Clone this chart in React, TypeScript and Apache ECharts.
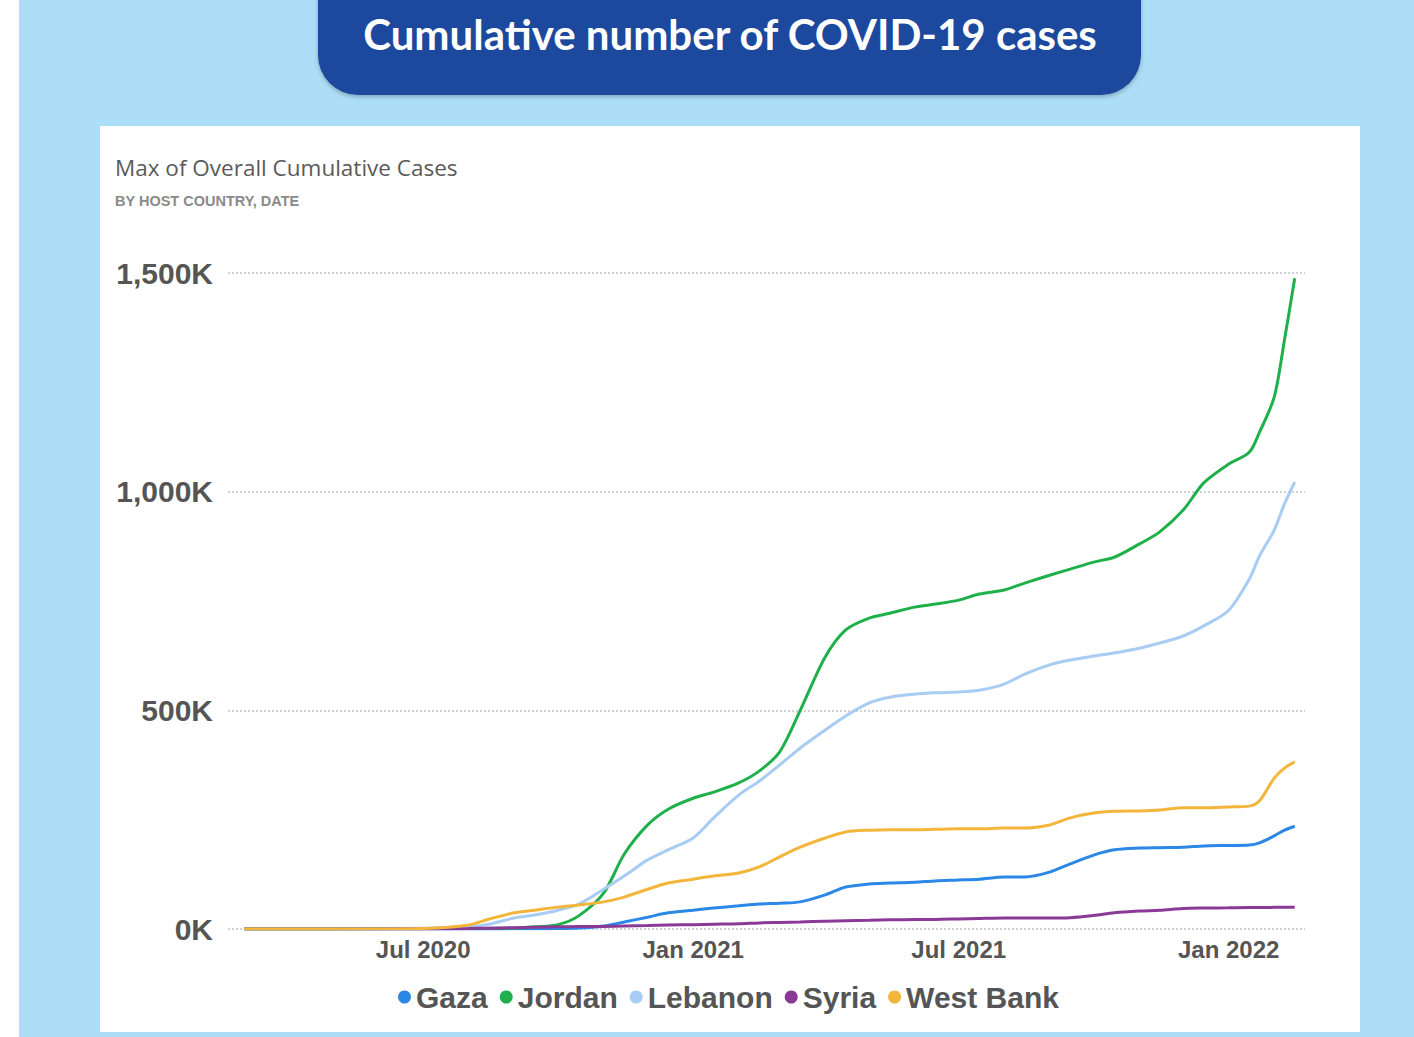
import React, { useEffect, useRef } from "react";
import * as echarts from "echarts";

// ---- Data (values in thousands of cases) ----
const dates: string[] = [
  "2020-03-01", "2020-04-01", "2020-05-01", "2020-06-01", "2020-07-01",
  "2020-08-01", "2020-08-15", "2020-09-01", "2020-09-15", "2020-10-01",
  "2020-10-15", "2020-11-01", "2020-11-15", "2020-12-01", "2020-12-15",
  "2021-01-01", "2021-01-15", "2021-02-01", "2021-02-15", "2021-03-01",
  "2021-03-15", "2021-04-01", "2021-04-15", "2021-05-01", "2021-05-15",
  "2021-06-01", "2021-06-15", "2021-07-01", "2021-07-15", "2021-08-01",
  "2021-08-15", "2021-09-01", "2021-09-15", "2021-10-01", "2021-10-15",
  "2021-11-01", "2021-11-15", "2021-12-01", "2021-12-15", "2022-01-01",
  "2022-01-15", "2022-01-22", "2022-02-01", "2022-02-08", "2022-02-15",
];

const gaza: number[] = [
  0, 0, 0, 0, 0, 0, 0, 0.5, 0.5, 1, 2, 7, 16, 27, 37,
  43, 48, 53, 57, 59, 62, 78, 96, 103, 105, 107, 110, 112, 114, 119,
  119, 130, 149, 169, 181, 185, 186, 187, 190,
  191, 192, 197, 213, 226, 235,
];
const jordan: number[] = [
  0, 0, 0, 1, 1, 1, 1.5, 2, 5, 10, 30, 82, 171, 238, 274,
  299, 313, 334, 361, 405, 500, 622, 684, 711, 722, 736, 743, 752, 766, 775,
  791, 809, 823, 839, 850, 880, 908, 958, 1020,
  1063, 1090, 1136, 1216, 1347, 1488,
];
const lebanon: number[] = [
  0, 0, 0, 0, 2, 5, 11, 25, 32, 43, 57, 91, 121, 158, 181,
  208, 254, 306, 338, 375, 414, 455, 487, 517, 530, 537, 540, 542, 546, 560,
  583, 604, 615, 624, 631, 642, 654, 670, 693,
  729, 800, 853, 912, 972, 1022,
];
const syria: number[] = [
  0, 0, 0, 0, 0, 1, 2, 3, 4, 5, 5.5, 6, 7, 8, 9,
  10, 11, 12, 14, 15, 16, 18, 19, 20, 21, 22, 22, 23, 24, 25,
  25, 25, 26, 31, 37, 41, 43, 47, 48,
  48.5, 49, 49, 49.5, 50, 50,
];
const westBank: number[] = [
  0, 0, 0, 0, 1, 9, 23, 37, 43, 50, 55, 62, 73, 91, 105,
  114, 121, 128, 142, 165, 187, 208, 222, 226, 227, 227, 228, 229, 229, 231,
  231, 238, 254, 265, 269, 270, 272, 277, 277,
  279, 281, 293, 345, 368, 382,
];

const seriesNames: string[] = ["Gaza", "Jordan", "Lebanon", "Syria", "West Bank"];
const seriesColors: string[] = ["#2B88E6", "#20B04B", "#A8CCF3", "#8A3A96", "#F4B63A"];
const seriesValues: number[][] = [gaza, jordan, lebanon, syria, westBank];

const xLabelDates: string[] = ["2020-07-01", "2021-01-01", "2021-07-01", "2022-01-01"];
const xRange: string[] = ["2020-02-19", "2022-02-22"];
const yTicks: number[] = [0, 500, 1000, 1500];

const MONTHS = ["Jan", "Feb", "Mar", "Apr", "May", "Jun", "Jul", "Aug", "Sep", "Oct", "Nov", "Dec"];

const toTime = (s: string): number => {
  const [y, m, d] = s.split("-").map(Number);
  return Date.UTC(y, m - 1, d);
};

export default function App() {
  const ref = useRef<HTMLDivElement>(null);

  useEffect(() => {
    if (!ref.current) return;
    const chart = echarts.init(ref.current, undefined, { renderer: "svg" });

    const option: any = {
      animation: false,
      backgroundColor: "#ffffff",
      graphic: [
        {
          type: "rect",
          z: -10,
          silent: true,
          shape: { x: 19, y: 0, width: 1395, height: 1037 },
          style: { fill: "#ADDEF7" },
        },
        {
          type: "rect",
          z: -9,
          silent: true,
          shape: { x: 100, y: 126, width: 1260, height: 906 },
          style: { fill: "#ffffff" },
        },
        {
          type: "rect",
          z: 5,
          silent: true,
          shape: { x: 318, y: -45, width: 823, height: 140, r: 40 },
          style: {
            fill: "#1C4A9E",
            shadowBlur: 4,
            shadowOffsetY: 2,
            shadowColor: "rgba(0,0,0,0.25)",
          },
        },
        {
          type: "text",
          z: 6,
          silent: true,
          x: 730,
          y: 34,
          style: {
            text: "Cumulative number of COVID-19 cases",
            fill: "#ffffff",
            font: "bold 42px Lato",
            textAlign: "center",
            textVerticalAlign: "middle",
          },
        },
        {
          type: "text",
          z: 6,
          silent: true,
          x: 115,
          y: 167,
          style: {
            text: "Max of Overall Cumulative Cases",
            fill: "#5a5a5a",
            font: "22.5px 'Open Sans'",
            textAlign: "left",
            textVerticalAlign: "middle",
          },
        },
        {
          type: "text",
          z: 6,
          silent: true,
          x: 115,
          y: 201,
          style: {
            text: "BY HOST COUNTRY, DATE",
            fill: "#8a8a8a",
            font: "bold 14.5px 'Liberation Sans'",
            textAlign: "left",
            textVerticalAlign: "middle",
          },
        },
      ],
      grid: { left: 228, right: 109, top: 273, bottom: 108, containLabel: false },
      legend: {
        left: 398,
        top: 982,
        padding: 0,
        icon: "circle",
        itemWidth: 13,
        itemHeight: 13,
        itemGap: 12,
        data: seriesNames,
        textStyle: {
          fontFamily: "Liberation Sans",
          fontWeight: "bold",
          fontSize: 30,
          color: "#555555",
        },
      },
      xAxis: {
        type: "value",
        min: toTime(xRange[0]),
        max: toTime(xRange[1]),
        axisLine: { show: false },
        axisTick: { show: false },
        splitLine: { show: false },
        axisLabel: {
          customValues: xLabelDates.map(toTime),
          formatter: (v: number) => {
            const d = new Date(v);
            return `${MONTHS[d.getUTCMonth()]} ${d.getUTCFullYear()}`;
          },
          fontFamily: "Liberation Sans",
          fontWeight: "bold",
          fontSize: 24,
          color: "#555555",
          margin: 8,
        },
      },
      yAxis: {
        type: "value",
        min: yTicks[0],
        max: yTicks[yTicks.length - 1],
        interval: yTicks[1] - yTicks[0],
        axisLine: { show: false },
        axisTick: { show: false },
        axisLabel: {
          formatter: (v: number) => `${v.toLocaleString("en-US")}K`,
          fontFamily: "Liberation Sans",
          fontWeight: "bold",
          fontSize: 30,
          color: "#555555",
          margin: 15,
        },
        splitLine: {
          show: true,
          lineStyle: { type: "dotted", color: "#d2d2d2", width: 2 },
        },
      },
      series: seriesNames.map((name, i) => ({
        name,
        type: "line",
        data: dates.map((d, j) => [toTime(d), seriesValues[i][j]]),
        showSymbol: false,
        smooth: 0.3,
        color: seriesColors[i],
        lineStyle: { width: 3, color: seriesColors[i] },
      })),
    };

    chart.setOption(option);
    return () => chart.dispose();
  }, []);

  return (
    <div
      ref={ref}
      style={{ position: "fixed", left: 0, top: 0, width: 1414, height: 1037 }}
    />
  );
}
